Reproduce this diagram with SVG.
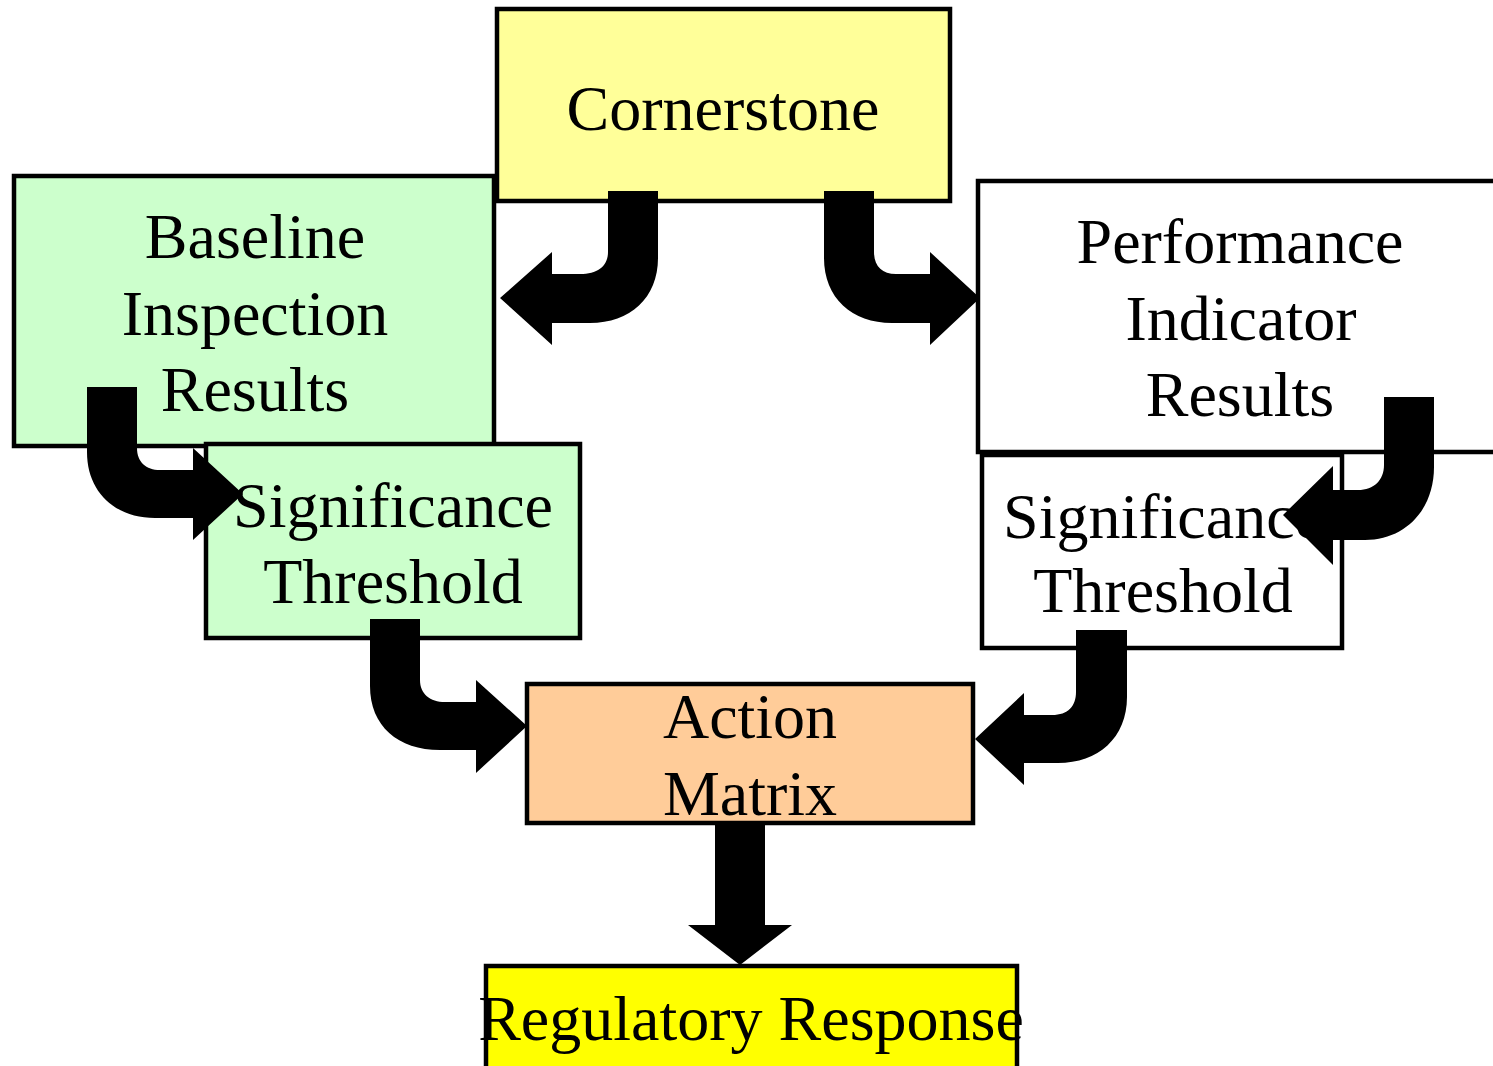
<svg xmlns="http://www.w3.org/2000/svg" width="1493" height="1066" viewBox="0 0 1493 1066">
<style>
.box{stroke:#000;stroke-width:4.5}
.t{font-family:"Liberation Serif","Times New Roman",serif;font-size:64px;fill:#000;text-anchor:middle}
.arr{fill:#000}
</style>
<rect width="1493" height="1066" fill="#fff"/>
<g id="cornerstone"><rect class="box" x="497" y="9" width="453" height="192" fill="#FFFF99"/><text class="t" x="723" y="130">Cornerstone</text></g>
<g id="baseline"><rect class="box" x="14" y="176" width="480" height="270" fill="#CCFFCC"/><text class="t" x="255" y="258">Baseline</text><text class="t" x="255" y="335">Inspection</text><text class="t" x="255" y="411">Results</text></g>
<g id="sig-left"><rect class="box" x="206" y="444" width="374" height="194" fill="#CCFFCC"/><text class="t" x="393" y="527">Significance</text><text class="t" x="393" y="603">Threshold</text></g>
<g id="performance"><rect class="box" x="978" y="181" width="530" height="271" fill="#FFFFFF"/><text class="t" x="1240" y="263">Performance</text><text class="t" x="1241" y="340">Indicator</text><text class="t" x="1240" y="416">Results</text></g>
<g id="sig-right"><rect class="box" x="982" y="455" width="360" height="193" fill="#FFFFFF"/><text class="t" x="1163" y="538">Significance</text><text class="t" x="1163" y="612">Threshold</text></g>
<g id="action"><rect class="box" x="527" y="684" width="446" height="139" fill="#FFCC99"/><text class="t" x="750" y="738">Action</text><text class="t" x="750" y="815">Matrix</text></g>
<g id="regulatory"><rect class="box" x="486" y="966" width="531" height="110" fill="#FFFF00"/><text class="t" x="751" y="1040">Regulatory Response</text></g>
<g id="connectors">
<path class="arr" d="M608 191H658V258C658 298 630 323 590 323H552V345L500 298L552 252V274H580C598 274 608 266 608 252Z"/>
<path class="arr" d="M874 191H824V258C824 298 852 323 892 323H930V345L980 298L930 252V274H896C882 274 874 266 874 252Z"/>
<path class="arr" d="M137 387H87V452C87 492 115 518 155 518H193V540L243 494L193 448V470H160C146 470 137 462 137 448Z"/>
<path class="arr" d="M1384 397L1434 397V467C1434 510 1405 540 1365 540H1333V565L1283 515L1333 466V490H1358C1374 490 1384 480 1384 465Z"/>
<path class="arr" d="M420 619H370V686C370 726 398 750 440 750H476V773L527 726L476 680V702H445C430 702 420 694 420 680Z"/>
<path class="arr" d="M1076 630H1127V697C1127 738 1098 763 1058 763H1024V785L975 739L1024 693V715H1052C1068 715 1076 706 1076 692Z"/>
<path class="arr" d="M715 823H765V925H792L740 965L688 925H715Z"/>
</g>
</svg>
